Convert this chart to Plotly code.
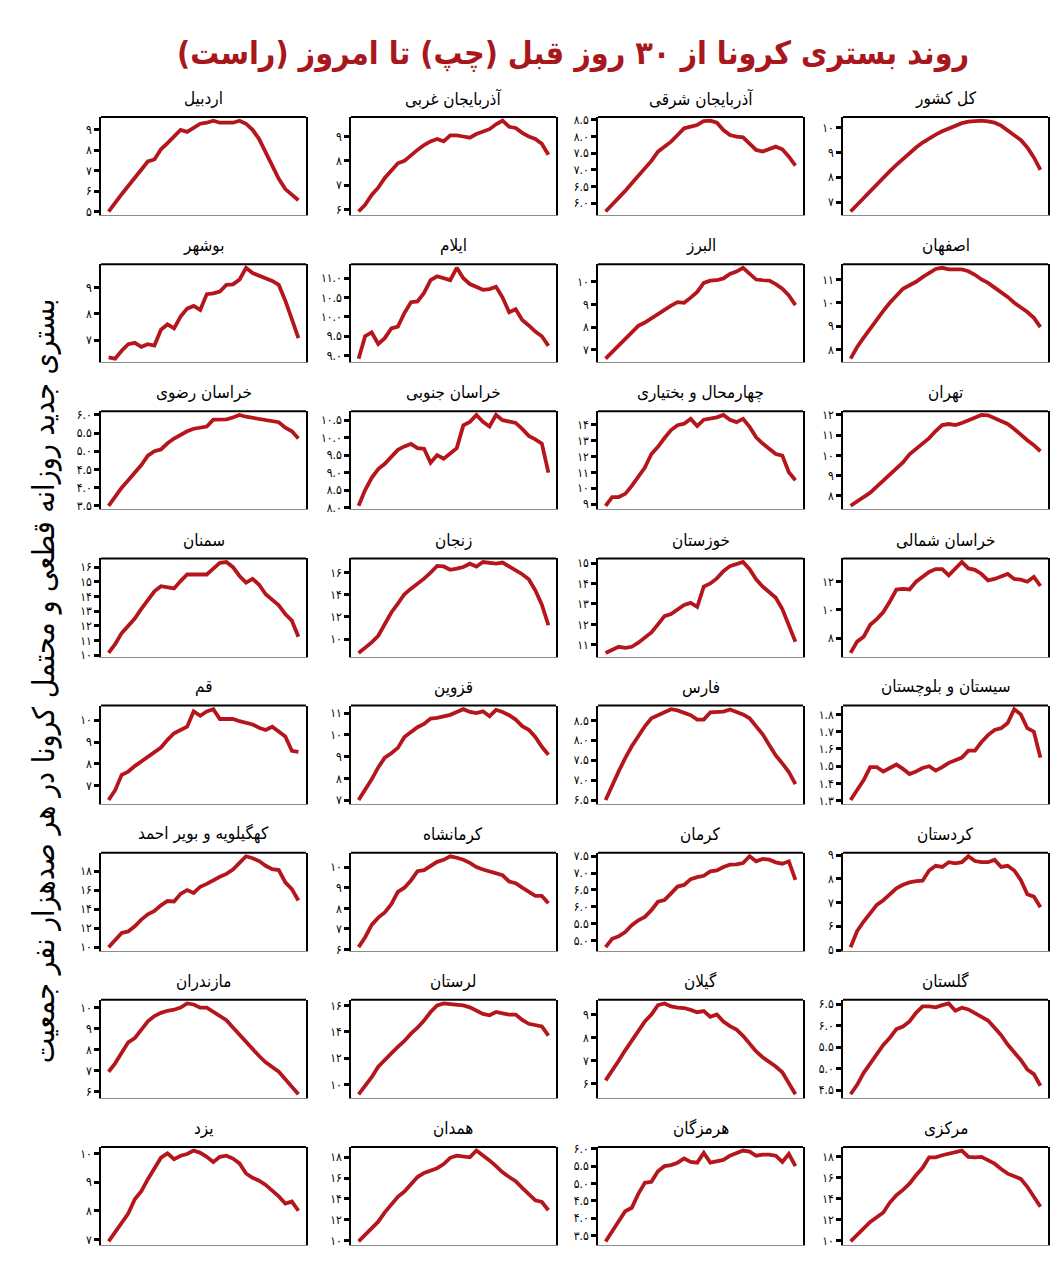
import plotly.graph_objects as go

days = list(range(30))

# ---- data: daily new hospitalizations per 100k (30 days ago -> today) ----
ardabil = [5.0, 5.45, 5.85, 6.25, 6.65, 7.05, 7.45, 7.55, 8.05, 8.35, 8.65, 9.0, 8.9, 9.1, 9.3,
           9.35, 9.45, 9.35, 9.35, 9.35, 9.45, 9.3, 9.0, 8.55, 7.9, 7.2, 6.6, 6.1, 5.8, 5.55]
azar_gharbi = [5.92, 6.2, 6.6, 6.9, 7.3, 7.6, 7.9, 8.0, 8.25, 8.45, 8.65, 8.8, 8.9, 8.8, 9.05,
               9.05, 9.0, 8.95, 9.1, 9.2, 9.3, 9.5, 9.65, 9.4, 9.35, 9.15, 9.0, 8.9, 8.7, 8.25]
azar_sharghi = [5.75, 5.95, 6.15, 6.37, 6.6, 6.82, 7.05, 7.27, 7.55, 7.7, 7.85, 8.05, 8.25, 8.3, 8.35,
                8.47, 8.48, 8.42, 8.2, 8.05, 8.0, 7.98, 7.8, 7.6, 7.55, 7.63, 7.7, 7.62, 7.4, 7.13]
kol_keshvar = [6.62, 6.9, 7.18, 7.45, 7.72, 7.98, 8.25, 8.5, 8.75, 9.0, 9.2, 9.4, 9.58, 9.72, 9.85,
               9.97, 10.07, 10.18, 10.24, 10.27, 10.28, 10.25, 10.2, 10.08, 9.9, 9.7, 9.5, 9.2, 8.8, 8.3]
bushehr = [6.35, 6.3, 6.6, 6.85, 6.9, 6.75, 6.85, 6.8, 7.4, 7.6, 7.45, 7.9, 8.2, 8.3, 8.15,
           8.75, 8.78, 8.85, 9.1, 9.12, 9.3, 9.75, 9.55, 9.45, 9.35, 9.25, 9.1, 8.5, 7.8, 7.08]
ilam = [8.92, 9.5, 9.6, 9.3, 9.45, 9.7, 9.75, 10.1, 10.38, 10.4, 10.62, 10.95, 11.05, 11.0, 10.95,
        11.27, 11.0, 10.85, 10.78, 10.7, 10.72, 10.78, 10.5, 10.12, 10.2, 9.92, 9.78, 9.62, 9.5, 9.25]
alborz = [6.6, 6.9, 7.2, 7.45, 7.75, 8.05, 8.2, 8.4, 8.6, 8.78, 8.95, 9.1, 9.07, 9.3, 9.55,
          9.95, 10.05, 10.07, 10.15, 10.35, 10.45, 10.62, 10.35, 10.1, 10.07, 10.05, 9.9, 9.7, 9.4, 8.97]
isfahan = [7.6, 8.1, 8.5, 8.9, 9.3, 9.65, 10.0, 10.3, 10.6, 10.75, 10.9, 11.1, 11.3, 11.45, 11.5,
           11.43, 11.43, 11.43, 11.35, 11.2, 11.0, 10.85, 10.65, 10.45, 10.25, 10.0, 9.8, 9.6, 9.35, 8.95]
khorasan_razavi = [3.5, 3.75, 4.0, 4.2, 4.4, 4.62, 4.88, 5.0, 5.05, 5.22, 5.35, 5.45, 5.55, 5.62, 5.65,
                   5.68, 5.87, 5.88, 5.88, 5.93, 6.0, 5.95, 5.92, 5.9, 5.88, 5.85, 5.8, 5.65, 5.55, 5.35]
khorasan_jonubi = [8.05, 8.5, 8.85, 9.1, 9.25, 9.45, 9.65, 9.75, 9.82, 9.7, 9.68, 9.28, 9.5, 9.4, 9.55,
                   9.7, 10.35, 10.45, 10.65, 10.45, 10.32, 10.65, 10.5, 10.45, 10.42, 10.25, 10.05, 9.95, 9.83, 9.0]
chaharmahal = [8.9, 9.45, 9.45, 9.65, 10.15, 10.75, 11.3, 12.15, 12.6, 13.15, 13.65, 13.95, 14.05, 14.35, 13.9,
               14.3, 14.35, 14.45, 14.6, 14.3, 14.15, 14.35, 13.85, 13.2, 12.8, 12.5, 12.15, 12.05, 11.0, 10.5]
tehran = [7.5, 7.7, 7.9, 8.15, 8.45, 8.75, 9.05, 9.3, 9.65, 10.05, 10.3, 10.6, 10.85, 11.2, 11.5,
          11.55, 11.5, 11.6, 11.75, 11.9, 12.0, 11.98, 11.85, 11.7, 11.55, 11.3, 11.0, 10.75, 10.5, 10.2]
semnan = [10.15, 10.75, 11.5, 12.0, 12.5, 13.15, 13.8, 14.35, 14.7, 14.6, 14.55, 15.05, 15.5, 15.5, 15.5,
          15.5, 15.9, 16.3, 16.35, 16.0, 15.4, 14.95, 15.2, 14.8, 14.15, 13.8, 13.4, 12.8, 12.35, 11.25]
zanjan = [8.75, 9.2, 9.7, 10.3, 11.3, 12.4, 13.2, 14.05, 14.55, 14.95, 15.45, 16.0, 16.6, 16.55, 16.25,
          16.35, 16.5, 16.8, 16.55, 16.95, 16.85, 16.8, 16.9, 16.55, 16.2, 15.85, 15.4, 14.4, 13.1, 11.25]
khuzestan = [10.6, 10.75, 10.9, 10.85, 10.9, 11.1, 11.35, 11.6, 12.0, 12.4, 12.5, 12.75, 12.95, 13.05, 12.85,
             13.85, 14.0, 14.25, 14.6, 14.85, 14.95, 15.05, 14.7, 14.2, 13.85, 13.55, 13.3, 12.75, 11.9, 11.15]
khorasan_shomali = [6.95, 7.75, 8.1, 8.95, 9.35, 9.85, 10.6, 11.45, 11.5, 11.45, 12.0, 12.35, 12.7, 12.9, 12.9,
                    12.45, 12.9, 13.4, 12.95, 12.85, 12.55, 12.1, 12.2, 12.4, 12.55, 12.2, 12.15, 12.0, 12.35, 11.7]
qom = [6.35, 6.8, 7.5, 7.65, 7.9, 8.1, 8.3, 8.5, 8.75, 9.1, 9.4, 9.55, 9.7, 10.4, 10.2,
       10.4, 10.5, 10.05, 10.05, 10.05, 9.95, 9.88, 9.8, 9.65, 9.55, 9.7, 9.5, 9.25, 8.6, 8.55]
qazvin = [7.0, 7.45, 7.95, 8.5, 8.95, 9.15, 9.4, 9.9, 10.15, 10.35, 10.5, 10.75, 10.78, 10.85, 10.92,
          11.05, 11.18, 11.05, 11.0, 11.08, 10.85, 11.15, 11.05, 10.9, 10.7, 10.4, 10.23, 9.9, 9.45, 9.08]
fars = [6.5, 6.88, 7.22, 7.55, 7.85, 8.1, 8.35, 8.55, 8.62, 8.7, 8.78, 8.75, 8.7, 8.63, 8.52,
        8.52, 8.7, 8.71, 8.72, 8.77, 8.72, 8.65, 8.55, 8.35, 8.15, 7.88, 7.62, 7.42, 7.2, 6.9]
sistan = [1.305, 1.36, 1.42, 1.495, 1.495, 1.47, 1.49, 1.51, 1.485, 1.455, 1.47, 1.49, 1.5, 1.475, 1.495,
          1.52, 1.535, 1.55, 1.59, 1.59, 1.64, 1.68, 1.71, 1.72, 1.75, 1.83, 1.8, 1.72, 1.7, 1.55]
kohgiluyeh = [10.0, 10.7, 11.5, 11.65, 12.2, 12.9, 13.45, 13.8, 14.4, 14.85, 14.8, 15.6, 16.0, 15.7, 16.35,
              16.65, 17.05, 17.4, 17.7, 18.15, 18.85, 19.55, 19.35, 19.05, 18.55, 18.2, 18.1, 16.8, 16.1, 14.9]
kermanshah = [6.12, 6.6, 7.2, 7.55, 7.8, 8.2, 8.8, 9.0, 9.35, 9.8, 9.85, 10.05, 10.25, 10.35, 10.52,
              10.45, 10.35, 10.2, 10.0, 9.88, 9.8, 9.72, 9.6, 9.3, 9.22, 9.0, 8.8, 8.6, 8.6, 8.25]
kerman = [4.8, 5.05, 5.12, 5.25, 5.45, 5.6, 5.7, 5.9, 6.15, 6.2, 6.4, 6.6, 6.65, 6.82, 6.88,
          6.92, 7.05, 7.08, 7.18, 7.25, 7.26, 7.3, 7.5, 7.35, 7.42, 7.4, 7.32, 7.28, 7.35, 6.8]
kordestan = [5.12, 5.8, 6.2, 6.55, 6.9, 7.1, 7.35, 7.6, 7.75, 7.85, 7.9, 7.92, 8.35, 8.55, 8.5,
             8.7, 8.65, 8.7, 8.95, 8.75, 8.7, 8.7, 8.8, 8.5, 8.55, 8.35, 7.95, 7.35, 7.25, 6.8]
mazandaran = [6.95, 7.35, 7.85, 8.35, 8.55, 8.95, 9.35, 9.6, 9.75, 9.85, 9.9, 10.0, 10.2, 10.15, 10.0,
              10.0, 9.8, 9.65, 9.4, 9.05, 8.7, 8.35, 8.0, 7.7, 7.4, 7.2, 6.95, 6.6, 6.25, 5.88]
lorestan = [9.25, 9.85, 10.55, 11.35, 11.9, 12.35, 12.85, 13.3, 13.85, 14.3, 14.85, 15.5, 16.0, 16.15, 16.1,
            16.05, 16.0, 15.85, 15.6, 15.35, 15.25, 15.5, 15.4, 15.3, 15.3, 14.9, 14.6, 14.5, 14.4, 13.7]
gilan = [6.15, 6.55, 7.0, 7.45, 7.85, 8.3, 8.7, 9.0, 9.4, 9.48, 9.35, 9.3, 9.28, 9.2, 9.1,
         9.15, 8.9, 9.0, 8.7, 8.5, 8.35, 8.08, 7.75, 7.4, 7.15, 6.95, 6.75, 6.5, 6.0, 5.55]
golestan = [4.4, 4.62, 4.9, 5.12, 5.35, 5.55, 5.72, 5.92, 5.98, 6.1, 6.3, 6.45, 6.45, 6.43, 6.48,
            6.52, 6.35, 6.42, 6.38, 6.3, 6.22, 6.12, 5.95, 5.78, 5.56, 5.38, 5.2, 4.98, 4.87, 4.6]
yazd = [6.93, 7.25, 7.55, 7.9, 8.4, 8.68, 9.1, 9.5, 9.85, 10.0, 9.8, 9.92, 9.98, 10.1, 10.02,
        9.88, 9.7, 9.88, 9.92, 9.82, 9.65, 9.3, 9.15, 9.05, 8.9, 8.7, 8.5, 8.25, 8.32, 8.0]
hamedan = [9.9, 10.5, 11.1, 11.8, 12.7, 13.5, 14.2, 14.7, 15.35, 16.1, 16.5, 16.7, 16.95, 17.35, 17.95,
           18.15, 18.05, 18.0, 18.65, 18.2, 17.7, 17.15, 16.55, 16.1, 15.7, 15.05, 14.4, 13.85, 13.7, 12.9]
hormozgan = [3.33, 3.62, 3.95, 4.2, 4.3, 4.7, 5.02, 5.05, 5.35, 5.5, 5.53, 5.6, 5.72, 5.62, 5.6,
             5.88, 5.6, 5.65, 5.68, 5.8, 5.87, 5.95, 5.92, 5.8, 5.83, 5.83, 5.8, 5.62, 5.85, 5.5]
markazi = [9.9, 10.55, 11.15, 11.75, 12.2, 12.65, 13.6, 14.3, 14.8, 15.4, 16.2, 16.9, 17.9, 17.9, 18.1,
           18.25, 18.45, 18.55, 17.95, 17.9, 17.95, 17.6, 17.3, 16.8, 16.35, 16.1, 15.85, 15.1, 14.2, 13.2]

# panel titles (row by row, left to right)
titles = ["اردبیل", "آذربایجان غربی", "آذربایجان شرقی", "کل کشور",
          "بوشهر", "ایلام", "البرز", "اصفهان",
          "خراسان رضوی", "خراسان جنوبی", "چهارمحال و بختیاری", "تهران",
          "سمنان", "زنجان", "خوزستان", "خراسان شمالی",
          "قم", "قزوین", "فارس", "سیستان و بلوچستان",
          "کهگیلویه و بویر احمد", "کرمانشاه", "کرمان", "کردستان",
          "مازندران", "لرستان", "گیلان", "گلستان",
          "یزد", "همدان", "هرمزگان", "مرکزی"]

series = [ardabil, azar_gharbi, azar_sharghi, kol_keshvar,
          bushehr, ilam, alborz, isfahan,
          khorasan_razavi, khorasan_jonubi, chaharmahal, tehran,
          semnan, zanjan, khuzestan, khorasan_shomali,
          qom, qazvin, fars, sistan,
          kohgiluyeh, kermanshah, kerman, kordestan,
          mazandaran, lorestan, gilan, golestan,
          yazd, hamedan, hormozgan, markazi]

# y tick values per panel
yticks = [[5, 6, 7, 8, 9], [6, 7, 8, 9], [6.0, 6.5, 7.0, 7.5, 8.0, 8.5], [7, 8, 9, 10],
          [7, 8, 9], [9.0, 9.5, 10.0, 10.5, 11.0], [7, 8, 9, 10], [8, 9, 10, 11],
          [3.5, 4.0, 4.5, 5.0, 5.5, 6.0], [8.0, 8.5, 9.0, 9.5, 10.0, 10.5], [9, 10, 11, 12, 13, 14], [8, 9, 10, 11, 12],
          [10, 11, 12, 13, 14, 15, 16], [10, 12, 14, 16], [11, 12, 13, 14, 15], [8, 10, 12],
          [7, 8, 9, 10], [7, 8, 9, 10, 11], [6.5, 7.0, 7.5, 8.0, 8.5], [1.3, 1.4, 1.5, 1.6, 1.7, 1.8],
          [10, 12, 14, 16, 18], [6, 7, 8, 9, 10], [5.0, 5.5, 6.0, 6.5, 7.0, 7.5], [5, 6, 7, 8, 9],
          [6, 7, 8, 9, 10], [10, 12, 14, 16], [6, 7, 8, 9], [4.5, 5.0, 5.5, 6.0, 6.5],
          [7, 8, 9, 10], [10, 12, 14, 16, 18], [3.5, 4.0, 4.5, 5.0, 5.5, 6.0], [10, 12, 14, 16, 18]]

main_title = "روند بستری کرونا از ۳۰ روز قبل (چپ) تا امروز (راست)"
y_label = "بستری جدید روزانه قطعی و محتمل کرونا در هر صدهزار نفر جمعیت"

FA = "۰۱۲۳۴۵۶۷۸۹"


def fa_num(v, dec):
    s = f"{v:.{dec}f}"
    return "".join(FA[int(ch)] if ch.isdigit() else ch for ch in s)


W, H = 1064, 1280
col_left = [101, 351, 598, 843]
box_w = 205
row_top0, row_step, box_h = 113, 148.4, 99
FONT = "DejaVu Sans Condensed, DejaVu Sans, sans-serif"
LINE_COLOR = "#B5161B"

fig = go.Figure()
layout = dict(width=W, height=H, margin=dict(l=0, r=0, t=0, b=0),
              paper_bgcolor="white", plot_bgcolor="white", showlegend=False,
              font=dict(family=FONT, color="black"))
annotations = []
shapes = []

for i, (vals, ticks, ttl) in enumerate(zip(series, yticks, titles)):
    r, c = divmod(i, 4)
    sfx = "" if i == 0 else str(i + 1)
    x0 = col_left[c]
    top = row_top0 + r * row_step
    dec = 0 if all(float(t).is_integer() for t in ticks) else 1
    lo, hi = min(vals), max(vals)
    pad = 0.04 * (hi - lo)
    layout["xaxis" + sfx] = dict(
        domain=[x0 / W, (x0 + box_w) / W], range=[-1.16, 30.16],
        anchor="y" + sfx, showticklabels=False, ticks="", showgrid=False,
        zeroline=False, showline=True, linecolor="#8c8c8c", linewidth=1)
    layout["yaxis" + sfx] = dict(
        domain=[1 - (top + box_h) / H, 1 - top / H], range=[lo - pad, hi + pad],
        anchor="x" + sfx, tickvals=ticks, ticktext=[fa_num(t, dec) for t in ticks],
        ticks="outside", ticklen=5, tickwidth=2.5, tickcolor="black",
        tickfont=dict(size=12, family=FONT, color="black"),
        showgrid=False, zeroline=False, showline=True, linecolor="black",
        linewidth=1.5, mirror=True)
    shapes.append(dict(type="line", xref="x" + sfx + " domain", yref="y" + sfx + " domain",
                       x0=0, x1=1, y0=1, y1=1, line=dict(color="black", width=2)))
    annotations.append(dict(text=ttl, xref="paper", yref="paper",
                            x=(x0 + box_w / 2) / W, y=1 - (top - 19) / H,
                            showarrow=False, xanchor="center", yanchor="middle",
                            font=dict(size=17, family=FONT, color="black")))
    fig.add_trace(go.Scatter(x=days, y=vals, mode="lines", xaxis="x" + sfx, yaxis="y" + sfx,
                             line=dict(color=LINE_COLOR, width=3.8), hoverinfo="skip"))

annotations.append(dict(text="<b>" + main_title + "</b>", xref="paper", yref="paper",
                        x=573 / W, y=1 - 48 / H, showarrow=False, xanchor="center",
                        yanchor="middle", font=dict(size=32, family=FONT, color="#A8171C")))
annotations.append(dict(text=y_label, xref="paper", yref="paper", x=44 / W, y=1 - 682 / H,
                        showarrow=False, textangle=-90, xanchor="center", yanchor="middle",
                        font=dict(size=30, family=FONT, color="black")))

layout["annotations"] = annotations
layout["shapes"] = shapes
fig.update_layout(**layout)
fig.write_html("out.html")
